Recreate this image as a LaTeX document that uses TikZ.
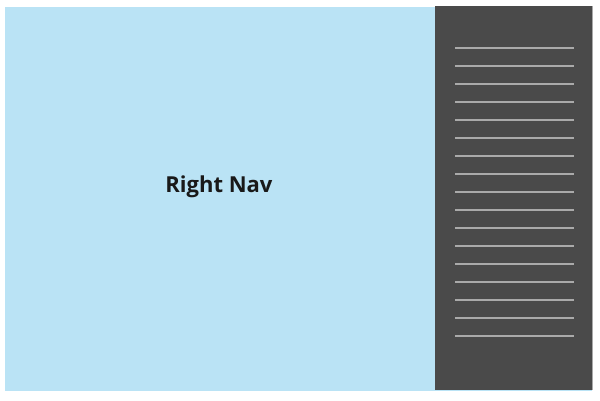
\documentclass[tikz,border=0pt]{standalone}
\usepackage{fontspec}
\setmainfont{Open Sans}
\usepackage{xcolor}
\usepackage{tikz}
\usetikzlibrary{positioning}
\definecolor{rnContent}{HTML}{BAE3F5}
\definecolor{rnNav}{HTML}{4A4A4A}
\definecolor{rnLine}{HTML}{AAAAAA}
\definecolor{rnEdge}{HTML}{A8A8A8}
\tikzset{
  contentbox/.style={fill=rnContent, draw=none},
  navpanel/.style={fill=rnNav, draw=none},
  navline/.style={draw=rnLine, line width=2pt},
  navedge/.style={draw=rnEdge, line width=1pt},
  title/.style={font=\fontsize{22}{26}\selectfont\bfseries, text=black!90}
}

\begin{document}
\begin{tikzpicture}[x=1pt, y=1pt]
  \useasboundingbox (0,0) rectangle (600,400);
  \fill[white] (0,0) rectangle (600,400);
  % content area
  \path[contentbox] (5,9) rectangle (592,393);
  \node[title] (label) at (219,213) {Right Nav};
  % navigation panel
  \path[navpanel] (434.5,10) rectangle (592,394);
  \draw[navedge] (592,10) -- (592,394);
  \foreach \i in {0,...,16}{
    \coordinate (l\i a) at (455,352.3-18*\i);
    \coordinate (l\i b) at (573.5,352.3-18*\i);
    \draw[navline] (l\i a) -- (l\i b);
  }
\end{tikzpicture}
\end{document}
